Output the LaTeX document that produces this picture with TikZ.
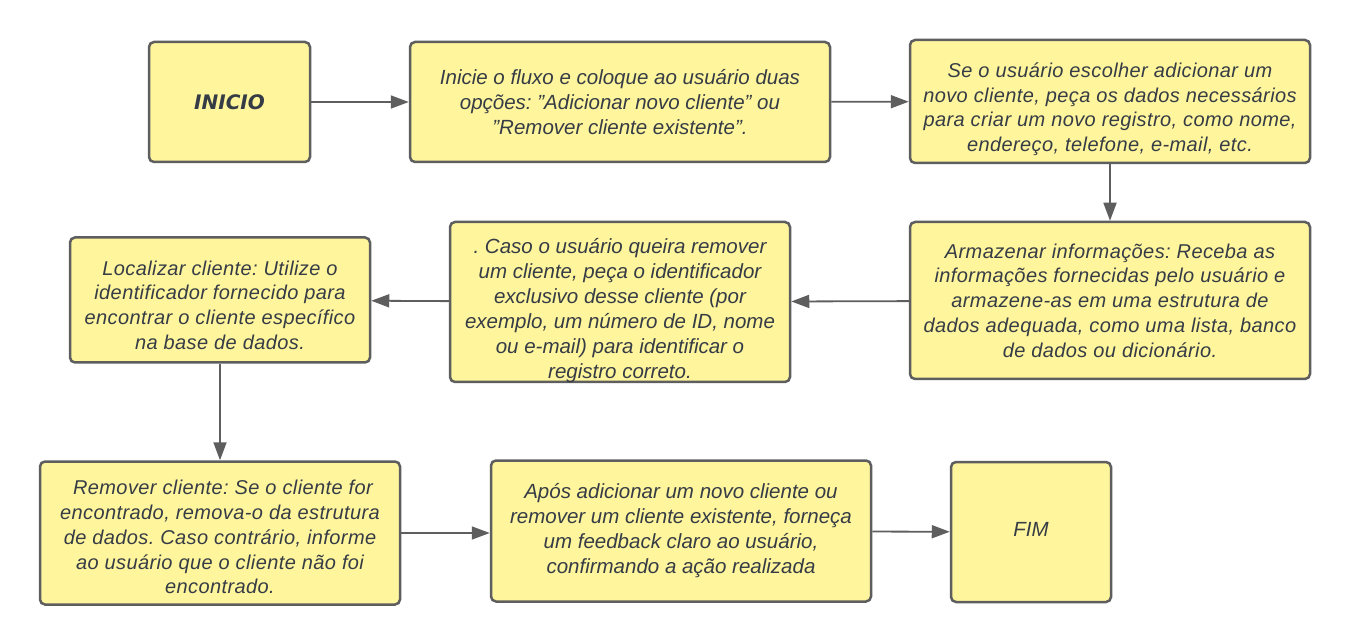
\documentclass[tikz,border=0pt]{standalone}
\usepackage{fontspec}
\setmainfont{Liberation Sans}
\newfontfamily\titlefont{DejaVu Sans}
\usetikzlibrary{arrows.meta}
\definecolor{fillc}{HTML}{FFF59D}
\definecolor{bordc}{HTML}{5E5E5E}
\definecolor{textc}{HTML}{363C45}
\newcommand{\q}{\symbol{34}}
\newcommand{\dn}[1]{\rule{0pt}{#1}}
\newcommand{\shiftdown}[2]{\raisebox{-#1}[\height][\depth]{\begin{tabular}{@{}c@{}}#2\end{tabular}}}
\tikzset{
  box/.style={draw=bordc, line width=2.5pt, fill=fillc, rounded corners=5pt,
    align=center, text=textc, inner sep=0pt,
    font=\frenchspacing\itshape\fontsize{20.5}{25}\selectfont},
  wide/.style={font=\frenchspacing\itshape\fontsize{20}{24.8}\selectfont\addfontfeature{LetterSpace=2}},
  conn/.style={draw=bordc, line width=1.8pt, -{Triangle[length=18pt,width=13pt]}},
}
\begin{document}
\begin{tikzpicture}[x=1pt,y=-1pt]
\useasboundingbox (0,0) rectangle (1350,644);
\fill[white] (0,0) rectangle (1350,644);
\node[box, minimum width=161pt, minimum height=120pt, font=\titlefont\bfseries\itshape\fontsize{20}{24}\selectfont] (b1) at (229.5,102) {INICIO};
\node[box, minimum width=420pt, minimum height=120pt] (b2) at (620,102) {Inicie o fluxo e coloque ao usuário duas\\opções: \q Adicionar novo cliente\q{} ou\\\q Remover cliente existente\q.};
\node[box, wide, minimum width=400pt, minimum height=123pt] (b3) at (1110,101.5) {\dn{30pt}Se o usuário escolher adicionar um\\novo cliente, peça os dados necessários\\para criar um novo registro, como nome,\\endereço, telefone, e-mail, etc.};
\node[box, wide, minimum width=400pt, minimum height=157pt] (b4) at (1110,300.5) {Armazenar informações: Receba as\\informações fornecidas pelo usuário e\\armazene-as em uma estrutura de\\dados adequada, como uma lista, banco\\de dados ou dicionário.};
\node[box, minimum width=340pt, minimum height=160pt] (b5) at (620,302) {\shiftdown{9pt}{. Caso o usuário queira remover\\um cliente, peça o identificador\\exclusivo desse cliente (por\\exemplo, um número de ID, nome\\ou e-mail) para identificar o\\registro correto.}};
\node[box, wide, minimum width=300pt, minimum height=125pt] (b6) at (220,300) {\dn{25pt}Localizar cliente: Utilize o\\identificador fornecido para\\encontrar o cliente específico\\na base de dados.};
\node[box, wide, minimum width=360pt, minimum height=143pt] (b7) at (220,533) {\dn{23pt}\ Remover cliente: Se o cliente for\\encontrado, remova-o da estrutura\\de dados. Caso contrário, informe\\ao usuário que o cliente não foi\\encontrado.};
\node[box, minimum width=380pt, minimum height=141pt] (b8) at (681,531) {Após adicionar um novo cliente ou\\remover um cliente existente, forneça\\um feedback claro ao usuário,\\confirmando a ação realizada};
\node[box, minimum width=160pt, minimum height=140pt] (b9) at (1031,532) {\raisebox{5pt}{FIM}};
\draw[conn] (b1) -- (b2);
\draw[conn] (b2) -- (b3);
\draw[conn] (b3) -- (b4);
\draw[conn] (b4) -- (b5);
\draw[conn] (b5) -- (b6);
\draw[conn] (b6) -- (b7);
\draw[conn] (b7.east |- 0,533) -- (b8.west |- 0,533);
\draw[conn] (b8) -- (b9);
\end{tikzpicture}
\end{document}
